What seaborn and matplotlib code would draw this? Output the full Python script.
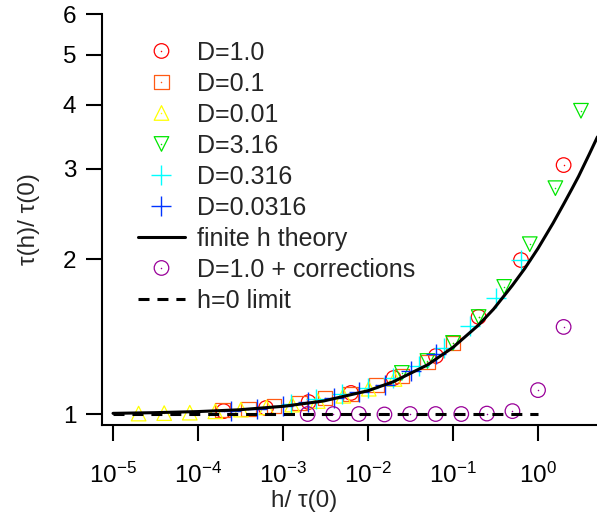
import matplotlib
matplotlib.use('Agg')
import matplotlib.pyplot as plt
import seaborn as sns
from matplotlib.ticker import NullLocator, FixedLocator, FixedFormatter

# --- data (x = h/tau(0), y = tau(h)/tau(0)) ---
d1_x = [2e-4, 6.3e-4, 2e-3, 6.3e-3, 0.02, 0.063, 0.2, 0.63, 2.0]
d1_y = [1.013, 1.027, 1.055, 1.099, 1.175, 1.297, 1.545, 1.993, 3.05]

d01_x = [1.95e-4, 3.9e-4, 7.8e-4, 1.56e-3, 3.13e-3, 6.25e-3, 0.0125, 0.025, 0.05, 0.1]
d01_y = [1.018, 1.023, 1.036, 1.05, 1.074, 1.094, 1.139, 1.186, 1.262, 1.375]

d001_x = [2e-5, 4e-5, 8e-5, 1.6e-4, 3.2e-4, 6.4e-4, 1.28e-3, 2.56e-3, 5.12e-3, 0.0102, 0.0205]
d001_y = [1.002, 1.004, 1.006, 1.012, 1.02, 1.03, 1.043, 1.06, 1.085, 1.12, 1.17]

d316_x = [0.025, 0.05, 0.1, 0.2, 0.4, 0.8, 1.6, 3.2]
d316_y = [1.202, 1.268, 1.375, 1.544, 1.767, 2.14, 2.75, 3.89]

d0316_x = [1.23e-3, 2.47e-3, 4.94e-3, 9.9e-3, 0.0198, 0.0395, 0.079, 0.158, 0.316, 0.632]
d0316_y = [1.046, 1.07, 1.094, 1.124, 1.175, 1.24, 1.344, 1.48, 1.68, 1.993]

d00316_x = [2.47e-4, 4.94e-4, 9.9e-4, 1.98e-3, 3.95e-3, 7.9e-3, 0.0158, 0.0316, 0.0632]
d00316_y = [1.013, 1.023, 1.036, 1.055, 1.074, 1.104, 1.139, 1.212, 1.308]

corr_x = [0.00195, 0.0039, 0.0078, 0.0156, 0.03125, 0.0625, 0.125, 0.25, 0.5, 1.0, 2.0]
corr_y = [1.0, 1.0, 1.0, 0.998, 1.0, 1.0, 1.0, 1.002, 1.013, 1.113, 1.477]

theory_x = [1e-5, 3e-5, 1e-4, 3e-4, 1e-3, 3e-3, 1e-2, 2e-2, 5e-2, 0.1, 0.2, 0.3,
            0.5, 0.7, 1.0, 1.5, 2.0, 2.5, 3.0, 4.0, 5.0]
theory_y = [1.003, 1.006, 1.011, 1.019, 1.035, 1.06, 1.11, 1.156, 1.246, 1.348, 1.49, 1.60,
            1.78, 1.92, 2.10, 2.35, 2.56, 2.74, 2.90, 3.20, 3.46]

limit_x = [1e-5, 1.0]
limit_y = [1.0, 1.0]

x_ticks = [1e-5, 1e-4, 1e-3, 1e-2, 1e-1, 1e0]
x_ticklabels = ['$10^{-5}$', '$10^{-4}$', '$10^{-3}$', '$10^{-2}$', '$10^{-1}$', '$10^{0}$']
y_ticks = [1, 2, 3, 4, 5, 6]
y_ticklabels = ['1', '2', '3', '4', '5', '6']

sns.set_style('ticks')
plt.rcParams['font.family'] = ['Liberation Sans', 'DejaVu Sans']
plt.rcParams['mathtext.fontset'] = 'custom'
plt.rcParams['mathtext.rm'] = 'Liberation Sans'
plt.rcParams['mathtext.it'] = 'Liberation Sans:italic'
plt.rcParams['mathtext.bf'] = 'Liberation Sans:bold'
plt.rcParams['axes.linewidth'] = 1.5

fig = plt.figure(figsize=(5.97, 5.18), dpi=100)
ax = fig.add_axes([102 / 597, 1 - 425 / 518, 495 / 597, 411 / 518])
ax.set_xscale('log')
ax.set_yscale('log')

marker_series = [
    ('D=1.0', d1_x, d1_y, 'o', '#ff0000'),
    ('D=0.1', d01_x, d01_y, 's', '#ff5a14'),
    ('D=0.01', d001_x, d001_y, '^', '#ffff00'),
    ('D=3.16', d316_x, d316_y, 'v', '#00e600'),
    ('D=0.316', d0316_x, d0316_y, '+', '#00ffff'),
    ('D=0.0316', d00316_x, d00316_y, '+', '#0033ff'),
]


def _markers(xs, ys, mk, col):
    if mk == '+':
        sns.scatterplot(x=xs, y=ys, marker='+', s=200, color=col, linewidth=1.0, ax=ax)
    else:
        sns.scatterplot(x=xs, y=ys, marker=mk, s=110, color=col, facecolor='none',
                        edgecolor=col, linewidth=0.9, ax=ax)
    h = ax.collections[-1]
    if mk != '+':
        sns.scatterplot(x=xs, y=ys, marker='o', s=1.2, color=col, linewidth=0, ax=ax)
        return (h, ax.collections[-1])
    return h


handles, labels = [], []
for label, xs, ys, mk, col in marker_series:
    handles.append(_markers(xs, ys, mk, col))
    labels.append(label)

sns.lineplot(x=theory_x, y=theory_y, color='black', linewidth=2.2, sort=False,
             estimator=None, ax=ax)
handles.append(ax.lines[-1])
labels.append('finite h theory')

handles.append(_markers(corr_x, corr_y, 'o', '#990099'))
labels.append('D=1.0 + corrections')

sns.lineplot(x=limit_x, y=limit_y, color='black', linewidth=2.2, sort=False,
             estimator=None, ax=ax, dashes=False)
ax.lines[-1].set_dashes((3.6, 2.6))
handles.append(ax.lines[-1])
labels.append('h=0 limit')

ax.set_xlim(7.42e-6, 4.94)
ax.set_ylim(0.952, 6.0)
ax.xaxis.set_major_locator(FixedLocator(x_ticks))
ax.xaxis.set_major_formatter(FixedFormatter(x_ticklabels))
ax.yaxis.set_major_locator(FixedLocator(y_ticks))
ax.yaxis.set_major_formatter(FixedFormatter(y_ticklabels))
ax.xaxis.set_minor_locator(NullLocator())
ax.yaxis.set_minor_locator(NullLocator())
ax.tick_params(axis='both', direction='out', length=11.5, width=1.5, labelsize=17.5,
               color='black', labelcolor='black')
ax.tick_params(axis='x', pad=16)
ax.tick_params(axis='y', pad=7)
sns.despine(ax=ax)
for sp in ('left', 'bottom'):
    ax.spines[sp].set_color('black')

ax.set_xlabel('h/ τ(0)', fontsize=17.5)
ax.set_ylabel('τ(h)/ τ(0)', fontsize=17.5)
ax.xaxis.set_label_coords(0.408, -0.158)
ax.yaxis.set_label_coords(-0.125, 0.5)

ax.legend(handles, labels, loc='upper left', bbox_to_anchor=(0.0727, 0.935),
          frameon=False, fontsize=18, borderaxespad=0, borderpad=0,
          handlelength=1.88, handletextpad=0.48, labelspacing=0.28,
          scatterpoints=1, scatteryoffsets=[0.5])

fig.savefig('out.png', dpi=100)
plt.close(fig)
